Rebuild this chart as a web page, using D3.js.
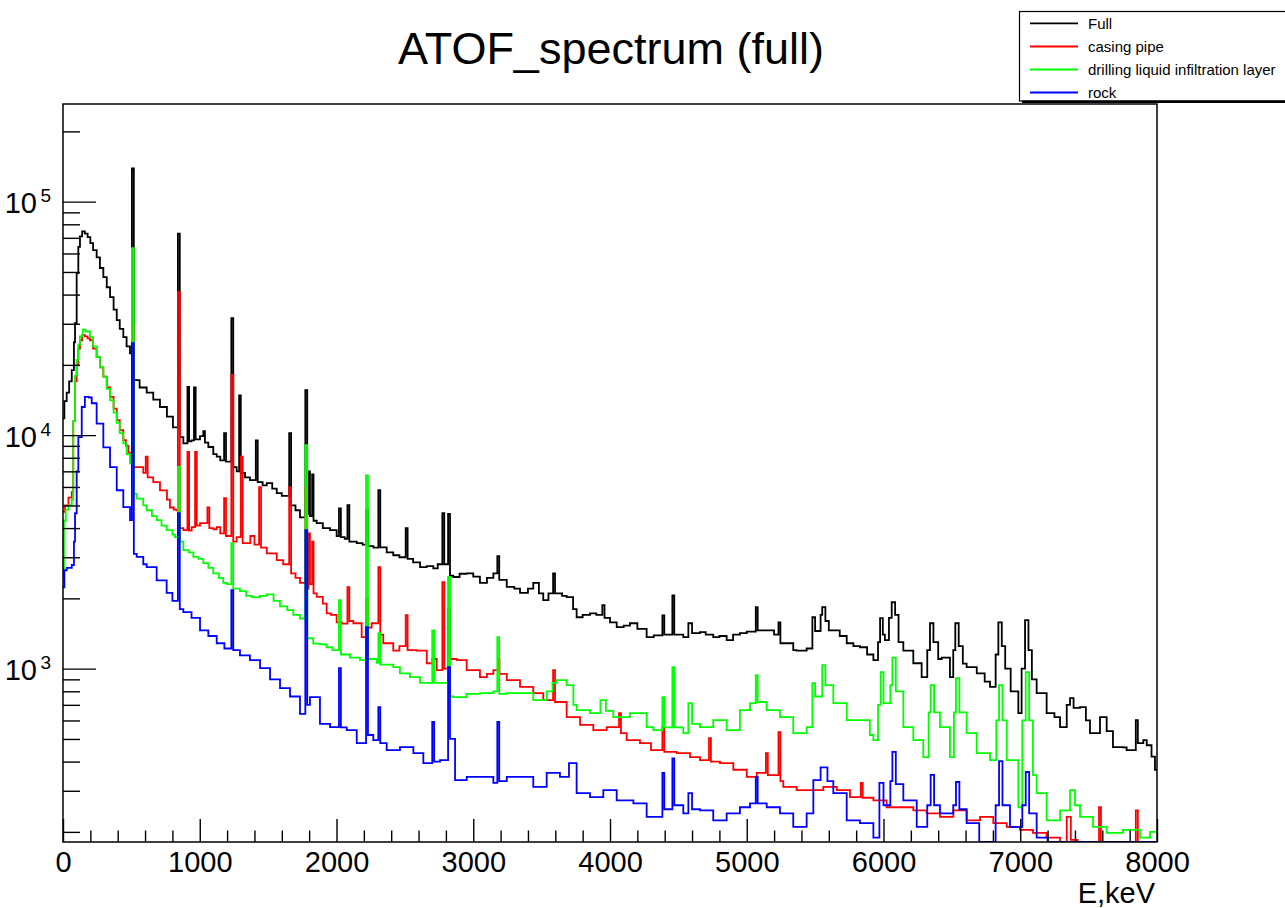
<!DOCTYPE html>
<html><head><meta charset="utf-8">
<script src="https://cdn.jsdelivr.net/npm/d3@7"></script>
<style>html,body{margin:0;padding:0;background:#fff;} svg{display:block;font-family:"Liberation Sans",Arial,Helvetica,sans-serif;}</style>
</head><body><svg id="c" width="1285" height="908"></svg>
<script>
const chartTitle = "ATOF_spectrum (full)";
const xAxisLabel = "E,keV";
const seriesNames = ["Full", "casing pipe", "drilling liquid infiltration layer", "rock"];
const seriesColors = ["#000000", "#ff0000", "#00ff00", "#0000ff"];
const xTickValues = [0, 1000, 2000, 3000, 4000, 5000, 6000, 7000, 8000];
const xMinorStep = 200;
const yDecadeExponents = [3, 4, 5];
const xDomain = [0, 8000];
const yDomain = [181, 262000];

// Histogram steps: [lower bin edge in keV, counts]
const fullHist = [[0,11800],[10,14000],[27,15200],[45,17000],[64,19000],[80,25000],[88,30200],[100,49500],[112,64000],[124,71000],[140,74500],[160,73000],[180,70500],[200,66500],[220,62000],[246,57700],[270,52000],[295,47500],[320,43000],[344,39000],[370,34500],[393,31100],[415,28500],[441,26300],[465,24000],[490,22400],[504,139000],[518,17200],[560,16000],[612,15200],[660,14200],[709,13200],[760,12000],[804,10800],[840,73000],[854,9800],[880,9230],[910,16100],[922,9400],[940,9500],[958,16000],[970,9600],[1002,9900],[1026,10400],[1038,9300],[1063,8900],[1099,8300],[1124,8100],[1150,7800],[1178,10200],[1192,7700],[1231,31700],[1245,7300],[1270,7000],[1288,14800],[1300,6900],[1331,6600],[1367,6420],[1410,9500],[1424,6300],[1460,6100],[1490,6230],[1530,5900],[1563,5650],[1600,5500],[1654,10200],[1668,5000],[1700,4770],[1733,4450],[1772,15600],[1786,4600],[1796,7000],[1806,4500],[1822,6800],[1832,4300],[1855,4200],[1900,4000],[1953,3920],[2001,3700],[2018,4860],[2032,3660],[2060,3600],[2080,5010],[2094,3500],[2148,3450],[2190,3400],[2216,4800],[2230,3350],[2270,3300],[2306,5810],[2320,3310],[2367,3150],[2415,3060],[2460,3000],[2506,4000],[2520,2950],[2560,2850],[2611,2720],[2660,2750],[2708,2690],[2740,2800],[2774,4630],[2788,2800],[2816,4600],[2830,2500],[2854,2470],[2900,2550],[2952,2560],[3000,2480],[3049,2330],[3100,2450],[3147,2560],[3176,3030],[3190,2400],[3245,2240],[3300,2200],[3342,2110],[3400,2200],[3439,2330],[3480,2100],[3512,1965],[3550,2100],[3584,2560],[3598,2100],[3650,2050],[3683,2025],[3730,1800],[3756,1660],[3800,1700],[3854,1725],[3900,1700],[3944,1870],[3960,1650],[4000,1580],[4049,1505],[4100,1530],[4146,1565],[4200,1480],[4268,1365],[4320,1390],[4383,1690],[4397,1400],[4456,2060],[4470,1400],[4536,1365],[4573,1565],[4600,1420],[4658,1435],[4700,1400],[4755,1365],[4800,1380],[4853,1325],[4900,1400],[4950,1420],[5000,1440],[5066,1835],[5080,1460],[5146,1460],[5200,1400],[5232,1580],[5246,1285],[5292,1285],[5340,1200],[5365,1195],[5438,1220],[5480,1660],[5500,1450],[5540,1700],[5552,1835],[5575,1600],[5600,1460],[5633,1460],[5680,1380],[5731,1285],[5780,1250],[5828,1235],[5880,1150],[5926,1087],[5960,1300],[5975,1645],[5995,1400],[6010,1325],[6040,1650],[6060,1925],[6085,1700],[6110,1300],[6145,1195],[6218,1055],[6279,920],[6320,1200],[6340,1565],[6365,1300],[6400,1100],[6426,1115],[6486,920],[6510,1200],[6525,1565],[6550,1250],[6580,1050],[6608,1015],[6682,955],[6740,880],[6779,835],[6820,1150],[6840,1580],[6865,1250],[6890,1000],[6930,800],[6986,645],[7010,1000],[7035,1613],[7060,1200],[7085,900],[7120,786],[7193,645],[7250,620],[7291,562],[7340,700],[7364,748],[7390,680],[7437,685],[7480,600],[7510,530],[7583,620],[7632,540],[7678,461],[7751,460],[7778,448],[7845,602],[7860,480],[7900,494],[7925,470],[7960,420],[7985,369]];

const casingHist = [[0,4700],[15,5000],[40,5400],[64,5700],[75,11500],[88,17000],[100,20000],[112,23500],[124,25500],[140,26800],[160,26500],[180,26000],[197,25500],[220,23500],[246,21600],[270,19500],[295,17800],[320,16000],[344,14600],[370,13000],[393,11600],[415,10500],[441,9520],[460,9000],[478,8420],[495,7800],[504,30000],[518,7300],[540,7300],[587,6900],[605,8100],[619,6600],[660,6300],[709,5800],[760,5300],[782,4900],[810,4800],[831,4770],[840,41100],[854,4000],[880,3920],[910,8480],[922,3900],[941,4040],[966,8480],[978,4100],[1002,4200],[1056,4900],[1070,4000],[1100,3950],[1124,4040],[1150,3800],[1178,5370],[1192,3700],[1231,18100],[1245,3500],[1270,3660],[1300,8090],[1314,3450],[1331,3450],[1370,3700],[1400,3400],[1434,5990],[1448,3300],[1490,3120],[1563,2915],[1610,2800],[1654,5990],[1668,2560],[1700,2450],[1733,2330],[1772,6000],[1786,2200],[1796,3800],[1806,2300],[1822,3500],[1832,2100],[1855,2030],[1900,1900],[1928,1725],[1960,1700],[2001,1580],[2040,1560],[2080,2235],[2094,1600],[2123,1565],[2184,1365],[2216,2000],[2230,1500],[2257,1565],[2306,2720],[2320,1400],[2342,1285],[2415,1195],[2460,1250],[2506,1695],[2520,1200],[2587,1195],[2660,1055],[2700,1100],[2733,985],[2774,2350],[2788,1000],[2816,1800],[2830,1100],[2879,1087],[2952,985],[3049,920],[3100,950],[3147,985],[3180,1100],[3192,950],[3245,893],[3342,835],[3439,786],[3512,733],[3584,985],[3598,720],[3683,620],[3781,575],[3878,545],[3976,562],[4066,645],[4080,530],[4122,494],[4219,480],[4300,448],[4383,562],[4397,440],[4488,435],[4585,418],[4658,406],[4724,504],[4738,400],[4804,394],[4902,369],[5000,344],[5073,358],[5140,435],[5154,350],[5232,535],[5246,330],[5267,312],[5365,302],[5463,302],[5560,312],[5658,302],[5755,282],[5834,324],[5848,280],[5926,273],[6023,255],[6121,255],[6218,247],[6316,240],[6413,232],[6511,247],[6608,224],[6706,232],[6803,218],[6901,210],[6998,204],[7093,198],[7193,189],[7291,175],[7340,232],[7370,185],[7420,170],[7576,255],[7590,170],[7700,175],[7845,247],[7860,165],[7950,175]];

const drillingHist = [[0,2400],[7,4300],[20,4800],[40,5000],[64,5300],[75,11500],[88,18000],[100,21000],[112,24500],[124,26500],[145,28300],[165,27800],[197,26300],[220,24000],[246,21600],[270,19500],[295,17800],[320,15800],[344,14100],[370,12500],[393,11300],[415,10200],[441,9230],[465,8300],[490,7580],[504,63200],[518,5600],[539,5350],[587,5000],[612,4770],[650,4500],[685,4325],[720,4100],[758,3920],[800,3750],[819,3660],[840,7310],[854,3500],[880,3220],[920,3150],[953,3010],[990,2950],[1026,2830],[1063,2700],[1099,2560],[1140,2450],[1172,2330],[1200,2300],[1231,3450],[1245,2200],[1294,2150],[1340,2050],[1380,2025],[1440,2050],[1490,2080],[1540,1950],[1587,1850],[1640,1780],[1684,1700],[1733,1640],[1772,9060],[1786,1350],[1830,1280],[1880,1270],[1928,1235],[1970,1200],[2018,1965],[2032,1150],[2099,1115],[2172,1087],[2216,6720],[2230,1100],[2294,1060],[2306,1420],[2320,1040],[2415,1015],[2464,955],[2537,920],[2611,870],[2700,1460],[2714,870],[2757,870],[2816,2470],[2830,760],[2854,755],[2952,780],[3049,786],[3147,800],[3176,1365],[3190,780],[3245,786],[3342,786],[3439,733],[3537,800],[3580,870],[3610,893],[3683,850],[3732,700],[3756,664],[3854,645],[3930,733],[3970,660],[4024,620],[4146,645],[4268,562],[4317,545],[4383,755],[4397,560],[4456,1015],[4470,560],[4536,530],[4573,712],[4600,580],[4658,562],[4755,602],[4853,545],[4950,664],[5024,712],[5066,938],[5080,720],[5146,664],[5243,620],[5340,530],[5438,562],[5480,867],[5500,760],[5552,1035],[5575,850],[5633,712],[5731,602],[5828,602],[5900,520],[5926,494],[5960,700],[5980,966],[6000,712],[6050,850],[6065,1115],[6090,800],[6145,562],[6218,494],[6291,418],[6330,650],[6345,850],[6370,650],[6413,562],[6486,418],[6515,650],[6530,910],[6555,650],[6608,530],[6682,435],[6779,406],[6825,600],[6845,850],[6870,600],[6901,406],[6986,255],[7015,600],[7040,966],[7065,600],[7093,350],[7120,293],[7193,224],[7291,247],[7364,302],[7400,260],[7437,232],[7532,210],[7632,198],[7751,204],[7876,189],[7949,200]];

const rockHist = [[0,2230],[10,2640],[27,2700],[64,2780],[80,3500],[88,4630],[100,7000],[112,9800],[137,13200],[160,14600],[190,14500],[210,13700],[246,11200],[295,8860],[344,7300],[393,5810],[441,4920],[490,4325],[504,24800],[518,3100],[539,3010],[587,2800],[612,2720],[685,2390],[758,2110],[800,1950],[840,4630],[854,1800],[880,1745],[940,1650],[1002,1460],[1063,1380],[1124,1285],[1180,1220],[1231,2170],[1245,1200],[1294,1140],[1367,1087],[1441,1005],[1514,900],[1587,825],[1660,760],[1733,640],[1772,3920],[1786,700],[1806,755],[1879,580],[1953,562],[2018,1005],[2032,560],[2075,545],[2148,480],[2216,1505],[2230,520],[2269,494],[2306,685],[2320,480],[2367,448],[2464,461],[2562,435],[2635,394],[2700,591],[2714,400],[2757,406],[2816,1015],[2830,500],[2867,333],[2952,344],[3049,344],[3147,324],[3176,591],[3190,330],[3245,344],[3342,344],[3439,312],[3537,358],[3634,344],[3700,394],[3756,293],[3854,282],[3951,302],[4049,273],[4171,265],[4268,232],[4317,232],[4383,358],[4397,250],[4456,413],[4470,260],[4536,240],[4573,293],[4600,250],[4658,247],[4755,224],[4853,240],[4950,255],[5024,265],[5066,344],[5080,265],[5146,255],[5243,240],[5340,210],[5438,240],[5487,333],[5540,378],[5590,330],[5633,293],[5731,224],[5828,218],[5926,189],[5970,324],[6000,260],[6050,330],[6065,440],[6090,320],[6145,273],[6243,210],[6320,260],[6345,351],[6370,260],[6413,240],[6510,260],[6530,327],[6555,250],[6608,218],[6700,175],[6820,260],[6845,402],[6870,260],[6925,210],[7015,260],[7040,361],[7065,240],[7120,189],[7200,170],[7500,160]];

const allSeries = [fullHist, casingHist, drillingHist, rockHist];

// ---------------- drawing ----------------
const W = 1285, H = 908;
const frame = {left: 63, right: 1157, top: 104, bottom: 842};
const svg = d3.select("#c");
svg.append("rect").attr("width", W).attr("height", H).attr("fill", "#fff");

const x = d3.scaleLinear().domain(xDomain).range([frame.left, frame.right]);
const y = d3.scaleLog().domain(yDomain).range([frame.bottom, frame.top]);

svg.append("clipPath").attr("id", "frameClip").append("rect")
  .attr("x", frame.left).attr("y", frame.top - 1)
  .attr("width", frame.right - frame.left).attr("height", frame.bottom - frame.top + 1);

const line = d3.line()
  .x(d => x(d[0]))
  .y(d => y(Math.max(d[1], yDomain[0])))
  .curve(d3.curveStepAfter);

const plot = svg.append("g").attr("clip-path", "url(#frameClip)");
allSeries.forEach((s, i) => {
  const pts = s.concat([[xDomain[1], s[s.length - 1][1]]]);
  plot.append("path").datum(pts)
    .attr("d", line)
    .attr("fill", "none")
    .attr("stroke", seriesColors[i])
    .attr("stroke-width", 1.8)
    .attr("stroke-linejoin", "miter");
});

// frame
svg.append("rect")
  .attr("x", frame.left).attr("y", frame.top)
  .attr("width", frame.right - frame.left).attr("height", frame.bottom - frame.top)
  .attr("fill", "none").attr("stroke", "#000").attr("stroke-width", 1.5);

// x axis
const xMajor = d3.axisBottom(x).tickValues(xTickValues).tickSizeInner(-23).tickSizeOuter(0)
  .tickPadding(9.5).tickFormat(d3.format("d"));
const gx = svg.append("g").attr("transform", `translate(0,${frame.bottom})`).call(xMajor);
gx.select(".domain").remove();
gx.selectAll("line").attr("stroke", "#000").attr("stroke-width", 1.4);
gx.selectAll("text").attr("font-size", 29).attr("fill", "#000")
  .attr("font-family", '"Liberation Sans",Arial,Helvetica,sans-serif');

const xMinorVals = d3.range(xDomain[0], xDomain[1] + 1, xMinorStep).filter(v => !xTickValues.includes(v));
const gxm = svg.append("g").attr("transform", `translate(0,${frame.bottom})`)
  .call(d3.axisBottom(x).tickValues(xMinorVals).tickSizeInner(-11.5).tickSizeOuter(0).tickFormat(""));
gxm.select(".domain").remove();
gxm.selectAll("line").attr("stroke", "#000").attr("stroke-width", 1.4);

// y axis
const yMajorVals = yDecadeExponents.map(e => Math.pow(10, e));
const gy = svg.append("g").attr("transform", `translate(${frame.left},0)`)
  .call(d3.axisLeft(y).tickValues(yMajorVals).tickSizeInner(-33).tickSizeOuter(0).tickFormat(""));
gy.select(".domain").remove();
gy.selectAll("line").attr("stroke", "#000").attr("stroke-width", 1.4);

const yMinorVals = [];
for (let e = 2; e <= 5; e++) for (let m = 2; m <= 9; m++) {
  const v = m * Math.pow(10, e);
  if (v >= yDomain[0] && v <= yDomain[1]) yMinorVals.push(v);
}
const gym = svg.append("g").attr("transform", `translate(${frame.left},0)`)
  .call(d3.axisLeft(y).tickValues(yMinorVals).tickSizeInner(-17).tickSizeOuter(0).tickFormat(""));
gym.select(".domain").remove();
gym.selectAll("line").attr("stroke", "#000").attr("stroke-width", 1.4);

// y labels 10^n
yDecadeExponents.forEach(e => {
  const yy = y(Math.pow(10, e));
  svg.append("text").attr("x", 37).attr("y", yy + 11.5).attr("text-anchor", "end")
    .attr("font-size", 29).attr("fill", "#000").text("10");
  svg.append("text").attr("x", 40.5).attr("y", yy + 0.5).attr("text-anchor", "start")
    .attr("font-size", 19).attr("fill", "#000").text(String(e));
});

// axis title
svg.append("text").attr("x", 1155).attr("y", 903).attr("text-anchor", "end")
  .attr("font-size", 29).attr("fill", "#000").text(xAxisLabel);

// chart title
svg.append("text").attr("x", 611).attr("y", 64).attr("text-anchor", "middle")
  .attr("font-size", 45).attr("fill", "#000").text(chartTitle);

// legend
const lg = svg.append("g");
lg.append("rect").attr("x", 1019.5).attr("y", 11.5).attr("width", 275).attr("height", 89.5)
  .attr("fill", "#fff").attr("stroke", "#000").attr("stroke-width", 1.2);
lg.append("rect").attr("x", 1022).attr("y", 100.5).attr("width", 270).attr("height", 2.5).attr("fill", "#000");
const legendRowY = [23.3, 46.5, 69.5, 92.5];
seriesNames.forEach((name, i) => {
  lg.append("line").attr("x1", 1030).attr("x2", 1078)
    .attr("y1", legendRowY[i]).attr("y2", legendRowY[i])
    .attr("stroke", seriesColors[i]).attr("stroke-width", 1.8);
  lg.append("text").attr("x", 1088).attr("y", legendRowY[i] + 5.2)
    .attr("font-size", 15).attr("fill", "#000").text(name);
});
</script>
</body></html>
